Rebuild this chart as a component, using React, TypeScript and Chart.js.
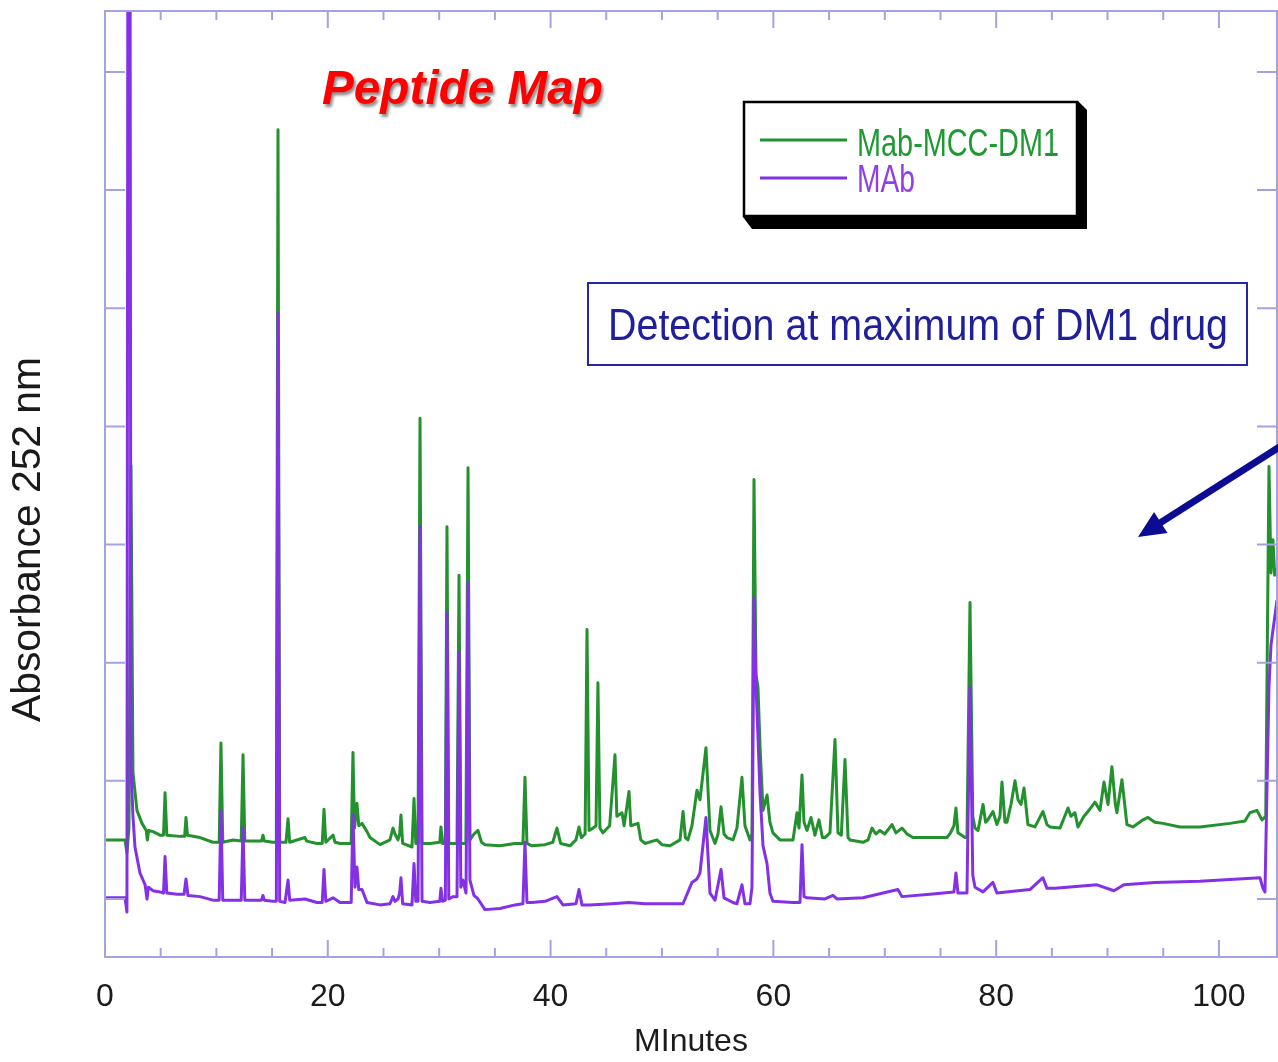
import React, { useEffect, useRef } from 'react';
import { Chart, registerables } from 'chart.js';

Chart.register(...registerables);

// ---------- text ----------
const CHART_TITLE = 'Peptide Map';
const SERIES_NAMES = ['Mab-MCC-DM1', 'MAb'];
const NOTE_TEXT = 'Detection at maximum of DM1 drug';
const X_TITLE = 'MInutes';
const Y_TITLE = 'Absorbance 252 nm';

// ---------- axes ----------
const X_TICK_LABELS = [0, 20, 40, 60, 80, 100];
const X_TICK_MARKS = [5, 10, 15, 20, 25, 30, 35, 40, 45, 50, 55, 60, 65, 70, 75, 80, 85, 90, 95, 100];
const Y_TICK_MARKS = [0, 1, 2, 3, 4, 5, 6, 7];
const X_RANGE = [0, 105.21];
const Y_RANGE = [-0.491, 7.516];

// ---------- series: [minutes, absorbance] ----------
const CONJUGATE: [number, number][] = [
  [0, 0.5], [1.8, 0.5], [1.97, 0.39], [2.15, 0.6], [2.33, 3.67], [2.51, 1.07], [2.87, 0.75], [3.32, 0.64],
  [3.7, 0.58], [3.8, 0.5], [3.92, 0.58], [4.31, 0.57], [4.94, 0.54], [5.25, 0.54], [5.39, 0.9], [5.55, 0.54],
  [6.73, 0.53], [7.15, 0.53], [7.27, 0.69], [7.4, 0.54], [8.53, 0.52], [9.69, 0.48], [10.25, 0.48], [10.41, 1.32],
  [10.57, 0.48], [11.49, 0.5], [12.23, 0.49], [12.39, 1.22], [12.55, 0.49], [14.05, 0.49], [14.18, 0.54], [14.3, 0.49],
  [15.08, 0.48], [15.38, 0.48], [15.53, 6.51], [15.68, 0.48], [16.25, 0.48], [16.43, 0.68], [16.58, 0.48], [17.95, 0.52],
  [18.1, 0.49], [19.03, 0.47], [19.5, 0.47], [19.66, 0.76], [19.82, 0.48], [20.47, 0.54], [20.65, 0.48], [21.1, 0.47],
  [21.81, 0.47], [22.1, 0.47], [22.26, 1.24], [22.4, 0.6], [22.62, 0.81], [22.78, 0.62], [23.07, 0.64], [23.52, 0.57],
  [23.79, 0.52], [24.69, 0.46], [25.58, 0.5], [25.85, 0.6], [26.03, 0.55], [26.3, 0.5], [26.45, 0.55], [26.57, 0.71],
  [26.72, 0.47], [27.56, 0.44], [27.74, 0.85], [27.9, 0.47], [28.1, 0.47], [28.28, 4.07], [28.46, 0.47], [29.17, 0.47],
  [30.05, 0.48], [30.16, 0.61], [30.3, 0.47], [30.55, 0.47], [30.7, 3.15], [30.86, 0.47], [31.6, 0.47], [31.78, 2.74],
  [31.94, 0.47], [32.4, 0.47], [32.59, 3.65], [32.76, 0.5], [33.12, 0.55], [33.48, 0.58], [33.8, 0.48], [34.11, 0.46],
  [35.46, 0.45], [36.8, 0.47], [37.52, 0.47], [37.7, 1.03], [37.88, 0.47], [38.33, 0.45], [39.5, 0.46], [40.2, 0.48],
  [40.57, 0.6], [40.9, 0.47], [41.74, 0.45], [42.28, 0.5], [42.55, 0.61], [42.75, 0.52], [43.1, 0.55], [43.27, 2.28],
  [43.45, 0.58], [43.81, 0.6], [44.08, 0.62], [44.25, 1.83], [44.43, 0.6], [44.7, 0.56], [45.3, 0.62], [45.78, 1.22],
  [45.95, 0.7], [46.41, 0.73], [46.6, 0.62], [47.04, 0.91], [47.2, 0.62], [47.85, 0.64], [48.1, 0.5], [48.47, 0.47],
  [49.55, 0.5], [50.0, 0.46], [50.72, 0.45], [51.62, 0.5], [51.89, 0.74], [52.1, 0.52], [52.33, 0.5], [52.69, 0.62],
  [53.14, 0.92], [53.41, 0.84], [53.95, 1.28], [54.31, 0.58], [54.76, 0.47], [55.03, 0.55], [55.3, 0.78], [55.57, 0.55],
  [55.83, 0.52], [56.37, 0.5], [56.73, 0.6], [57.18, 1.03], [57.45, 0.62], [57.9, 0.5], [58.08, 0.55], [58.26, 3.55],
  [58.44, 1.9], [58.62, 1.79], [58.8, 1.29], [59.07, 0.75], [59.43, 0.88], [59.69, 0.65], [59.96, 0.56], [60.59, 0.5],
  [61.76, 0.5], [62.12, 0.73], [62.3, 0.6], [62.57, 1.05], [62.75, 0.65], [63.02, 0.58], [63.38, 0.69], [63.73, 0.54],
  [64.09, 0.67], [64.4, 0.52], [64.63, 0.52], [65.08, 0.56], [65.53, 1.35], [65.8, 0.56], [66.1, 0.54], [66.43, 1.18],
  [66.7, 0.52], [66.88, 0.5], [68.04, 0.48], [68.5, 0.5], [68.85, 0.6], [69.2, 0.55], [69.57, 0.58], [70.0, 0.55],
  [70.65, 0.63], [71.0, 0.56], [71.54, 0.6], [72.0, 0.55], [72.53, 0.52], [74.06, 0.52], [75.58, 0.52], [75.9, 0.56],
  [76.21, 0.62], [76.39, 0.77], [76.57, 0.56], [77.2, 0.52], [77.38, 0.52], [77.65, 2.51], [77.9, 0.7], [78.1, 0.6],
  [78.37, 0.58], [78.82, 0.8], [79.05, 0.65], [79.26, 0.67], [79.71, 0.74], [80.07, 0.63], [80.34, 0.7], [80.52, 0.99],
  [80.79, 0.65], [80.97, 0.65], [81.33, 0.8], [81.69, 1.0], [81.96, 0.84], [82.23, 0.8], [82.5, 0.94], [82.85, 0.63],
  [83.48, 0.61], [84.2, 0.74], [84.56, 0.63], [84.83, 0.61], [85.73, 0.6], [86.45, 0.77], [86.71, 0.7], [87.07, 0.73],
  [87.34, 0.61], [87.88, 0.7], [88.24, 0.74], [88.87, 0.82], [89.32, 0.75], [89.68, 0.99], [90.04, 0.8], [90.39, 1.12],
  [90.7, 0.8], [90.84, 0.73], [91.29, 1.01], [91.74, 0.63], [92.28, 0.61], [93.18, 0.67], [93.63, 0.69], [94.25, 0.65],
  [94.97, 0.64], [96.5, 0.61], [98.29, 0.61], [100.99, 0.64], [102.33, 0.66], [102.78, 0.73], [103.41, 0.75], [103.86, 0.67],
  [104.2, 0.7], [104.49, 3.66], [104.67, 2.76], [104.85, 3.04], [105.0, 2.74], [105.21, 2.8],
];

const MAB: [number, number][] = [
  [0, 0.01], [1.8, 0.01], [1.97, -0.11], [2.06, 9.0], [2.24, 9.0], [2.33, 1.12], [2.51, 0.7], [2.69, 0.44],
  [3.14, 0.22], [3.6, 0.12], [3.77, 0.0], [3.9, 0.1], [4.31, 0.07], [4.94, 0.06], [5.25, 0.05], [5.39, 0.36],
  [5.55, 0.05], [6.46, 0.04], [7.1, 0.04], [7.27, 0.17], [7.45, 0.03], [8.53, 0.02], [9.69, -0.01], [10.25, -0.01],
  [10.41, 0.75], [10.57, -0.01], [11.49, -0.01], [12.23, -0.01], [12.39, 0.6], [12.55, -0.01], [14.05, -0.01], [14.18, 0.03],
  [14.3, -0.01], [15.08, -0.02], [15.38, -0.02], [15.53, 4.96], [15.68, -0.02], [16.16, -0.03], [16.43, 0.16], [16.58, -0.01],
  [17.95, 0.0], [19.03, -0.03], [19.5, -0.03], [19.66, 0.25], [19.82, -0.02], [20.47, 0.01], [21.1, -0.03], [21.81, -0.03],
  [22.1, -0.03], [22.26, 0.71], [22.44, 0.1], [22.62, 0.27], [22.78, 0.08], [23.07, 0.08], [23.52, -0.03], [24.69, -0.05],
  [25.58, -0.04], [25.85, 0.02], [26.03, -0.02], [26.3, 0.0], [26.45, 0.05], [26.57, 0.18], [26.72, -0.04], [27.56, -0.05],
  [27.74, 0.3], [27.9, -0.02], [28.1, -0.02], [28.28, 3.15], [28.46, -0.02], [29.17, -0.03], [30.05, -0.02], [30.16, 0.09],
  [30.3, -0.02], [30.55, -0.01], [30.7, 2.42], [30.86, 0.0], [31.24, 0.02], [31.6, 0.02], [31.78, 2.09], [31.94, 0.1],
  [32.14, 0.16], [32.41, 0.05], [32.59, 2.68], [32.76, 0.16], [33.12, 0.03], [33.48, 0.0], [34.11, -0.09], [35.46, -0.08],
  [36.8, -0.05], [37.52, -0.04], [37.7, 0.48], [37.88, -0.03], [38.33, -0.03], [39.5, -0.02], [40.57, 0.02], [41.11, -0.05],
  [42.28, -0.04], [42.55, 0.08], [42.82, -0.05], [43.5, -0.05], [45.51, -0.04], [47.04, -0.03], [48.47, -0.04], [51.89, -0.04],
  [52.69, 0.14], [53.14, 0.17], [53.41, 0.22], [53.95, 0.69], [54.31, 0.05], [54.76, -0.01], [55.3, 0.25], [55.57, 0.01],
  [56.37, -0.03], [56.73, -0.04], [57.18, 0.12], [57.45, -0.04], [57.9, -0.04], [58.08, 0.1], [58.26, 2.55], [58.44, 1.8],
  [58.62, 1.37], [58.8, 0.9], [59.07, 0.45], [59.43, 0.3], [59.69, 0.05], [59.96, -0.02], [61.76, -0.03], [62.39, -0.03],
  [62.57, 0.46], [62.75, 0.02], [63.02, 0.01], [64.63, 0.0], [65.35, 0.03], [65.71, 0.0], [68.04, 0.01], [71.18, 0.08],
  [71.54, 0.02], [74.06, 0.04], [76.21, 0.06], [76.39, 0.22], [76.57, 0.05], [77.38, 0.05], [77.65, 1.79], [77.9, 0.2],
  [78.1, 0.1], [78.82, 0.06], [79.71, 0.14], [80.07, 0.05], [83.03, 0.08], [84.2, 0.18], [84.56, 0.09], [85.28, 0.09],
  [89.05, 0.12], [90.57, 0.07], [91.47, 0.12], [94.25, 0.14], [98.29, 0.15], [103.68, 0.18], [103.95, 0.09], [104.13, 0.06],
  [104.49, 1.8], [104.67, 2.15], [105.21, 2.53],
];

const GREEN = '#23912e';
const PURPLE = '#8431e6';
const AXIS_COLOR = '#a3a3e0';
const NAVY = '#1f1f9c';

function hasFont(name: string): boolean {
  const c = document.createElement('canvas').getContext('2d');
  if (!c) return false;
  c.font = '40px monospace';
  const a = c.measureText('Mab-MCC-DM1 100').width;
  c.font = `40px "${name}", monospace`;
  const b = c.measureText('Mab-MCC-DM1 100').width;
  return Math.abs(a - b) > 0.5;
}

function fitText(ctx: CanvasRenderingContext2D, text: string, x: number, y: number, font: string, color: string, width: number) {
  ctx.save();
  ctx.font = font;
  ctx.fillStyle = color;
  ctx.textAlign = 'left';
  ctx.textBaseline = 'alphabetic';
  const w = ctx.measureText(text).width;
  ctx.translate(x, y);
  ctx.scale(width / w, 1);
  ctx.fillText(text, 0, 0);
  ctx.restore();
}

const decorations = {
  id: 'decorations',
  afterDatasetsDraw(chart: any) {
    const { ctx, chartArea: a, scales } = chart;
    const xs = scales.x;
    const ys = scales.y;
    ctx.save();
    // frame
    ctx.strokeStyle = AXIS_COLOR;
    ctx.lineWidth = 2;
    ctx.strokeRect(a.left, a.top, a.right - a.left, a.bottom - a.top);
    ctx.beginPath();
    X_TICK_MARKS.forEach((v) => {
      const px = xs.getPixelForValue(v);
      const len = v % 20 === 0 ? 17 : 9;
      ctx.moveTo(px, a.bottom);
      ctx.lineTo(px, a.bottom - len);
      ctx.moveTo(px, a.top);
      ctx.lineTo(px, a.top + len);
    });
    Y_TICK_MARKS.forEach((v) => {
      const py = ys.getPixelForValue(v);
      ctx.moveTo(a.left, py);
      ctx.lineTo(a.left + 20, py);
      ctx.moveTo(a.right, py);
      ctx.lineTo(a.right - 20, py);
    });
    ctx.stroke();
    ctx.restore();

    // title "Peptide Map"
    ctx.save();
    ctx.shadowColor = 'rgba(0,0,0,0.45)';
    ctx.shadowOffsetX = 2;
    ctx.shadowOffsetY = 3;
    ctx.shadowBlur = 3;
    fitText(ctx, CHART_TITLE, 322, 104, 'italic bold 48px "Liberation Sans", Arial, sans-serif', '#ff0000', 281);
    ctx.restore();

    // legend box
    ctx.save();
    ctx.fillStyle = '#000';
    ctx.beginPath();
    ctx.moveTo(1078, 101);
    ctx.lineTo(1087, 110);
    ctx.lineTo(1087, 229);
    ctx.lineTo(752, 229);
    ctx.lineTo(743, 217);
    ctx.closePath();
    ctx.fill();
    ctx.fillStyle = '#fff';
    ctx.fillRect(743, 101, 335, 116);
    ctx.strokeStyle = '#000';
    ctx.lineWidth = 2.5;
    ctx.strokeRect(744, 102, 333, 114);
    ctx.lineWidth = 3;
    ctx.strokeStyle = GREEN;
    ctx.beginPath();
    ctx.moveTo(760, 140);
    ctx.lineTo(847, 140);
    ctx.stroke();
    ctx.strokeStyle = PURPLE;
    ctx.beginPath();
    ctx.moveTo(760, 178);
    ctx.lineTo(847, 178);
    ctx.stroke();
    ctx.restore();
    fitText(ctx, SERIES_NAMES[0], 857, 156, '38px "Liberation Sans", Arial, sans-serif', '#1f9a33', 202);
    fitText(ctx, SERIES_NAMES[1], 857, 192, '38px "Liberation Sans", Arial, sans-serif', '#9040e6', 58);

    // note box
    ctx.save();
    ctx.fillStyle = '#fff';
    ctx.fillRect(588, 283, 659, 82);
    ctx.strokeStyle = '#2626a6';
    ctx.lineWidth = 2;
    ctx.strokeRect(588, 283, 659, 82);
    ctx.restore();
    fitText(ctx, NOTE_TEXT, 608, 340, '44px "Liberation Sans", Arial, sans-serif', NAVY, 620);

    // arrow
    ctx.save();
    ctx.strokeStyle = '#0b0b94';
    ctx.fillStyle = '#0b0b94';
    ctx.lineWidth = 7;
    const tip = [1138, 537];
    const start = [1284, 444];
    const dx = tip[0] - start[0];
    const dy = tip[1] - start[1];
    const L = Math.hypot(dx, dy);
    const ux = dx / L;
    const uy = dy / L;
    const bx = tip[0] - 27 * ux;
    const by = tip[1] - 27 * uy;
    ctx.beginPath();
    ctx.moveTo(start[0], start[1]);
    ctx.lineTo(bx + 4 * ux, by + 4 * uy);
    ctx.stroke();
    ctx.beginPath();
    ctx.moveTo(tip[0], tip[1]);
    ctx.lineTo(bx - uy * 12.5, by + ux * 12.5);
    ctx.lineTo(bx + uy * 12.5, by - ux * 12.5);
    ctx.closePath();
    ctx.fill();
    ctx.restore();

    // y title
    ctx.save();
    ctx.translate(40, 722);
    ctx.rotate(-Math.PI / 2);
    fitText(ctx, Y_TITLE, 0, 0, '40px "Liberation Sans", Arial, sans-serif', '#1a1a1a', 365);
    ctx.restore();
  },
};

export default function App() {
  const ref = useRef<HTMLCanvasElement | null>(null);

  useEffect(() => {
    document.body.style.margin = '0';
    const canvas = ref.current;
    if (!canvas) return;
    const narrow = hasFont('Liberation Sans Narrow');
    const tickFont = narrow
      ? { family: '"Liberation Sans Narrow", "Liberation Sans", Arial, sans-serif', size: 38 }
      : { family: '"Liberation Sans", Arial, sans-serif', size: 32 };

    const chart = new Chart(canvas, {
      type: 'scatter',
      data: {
        datasets: [
          {
            label: SERIES_NAMES[0],
            data: CONJUGATE.map(([x, y]) => ({ x, y })),
            showLine: true,
            borderColor: GREEN,
            backgroundColor: GREEN,
            borderWidth: 3,
            borderJoinStyle: 'round',
            pointRadius: 0,
            tension: 0,
            order: 1,
          },
          {
            label: SERIES_NAMES[1],
            data: MAB.map(([x, y]) => ({ x, y })),
            showLine: true,
            borderColor: PURPLE,
            backgroundColor: PURPLE,
            borderWidth: 3,
            borderJoinStyle: 'round',
            pointRadius: 0,
            tension: 0,
            order: 0,
          },
        ],
      },
      options: {
        animation: false,
        responsive: false,
        devicePixelRatio: 1,
        layout: { padding: { left: 105, top: 11, right: 1, bottom: 0 } },
        plugins: { legend: { display: false }, tooltip: { enabled: false } },
        scales: {
          x: {
            type: 'linear',
            position: 'bottom',
            min: X_RANGE[0],
            max: X_RANGE[1],
            grid: { display: false, drawTicks: false },
            border: { display: false },
            afterBuildTicks: (scale: any) => {
              scale.ticks = X_TICK_LABELS.map((v) => ({ value: v }));
            },
            afterFit: (scale: any) => {
              scale.height = 105;
            },
            ticks: {
              autoSkip: false,
              maxRotation: 0,
              padding: 21,
              color: '#1c1c1c',
              font: tickFont,
              callback: (v: any) => String(v),
            },
            title: {
              display: true,
              text: X_TITLE,
              color: '#1c1c1c',
              font: { family: '"Liberation Sans", Arial, sans-serif', size: 32, lineHeight: 1 },
              padding: { top: 0, bottom: 4 },
            },
          },
          y: {
            type: 'linear',
            display: false,
            min: Y_RANGE[0],
            max: Y_RANGE[1],
          },
        },
      },
      plugins: [decorations],
    } as any);

    return () => chart.destroy();
  }, []);

  return (
    <div style={{ position: 'absolute', left: 0, top: 0, width: 1278, height: 1062, background: '#fff' }}>
      <canvas ref={ref} width={1278} height={1062} style={{ display: 'block' }} />
    </div>
  );
}
